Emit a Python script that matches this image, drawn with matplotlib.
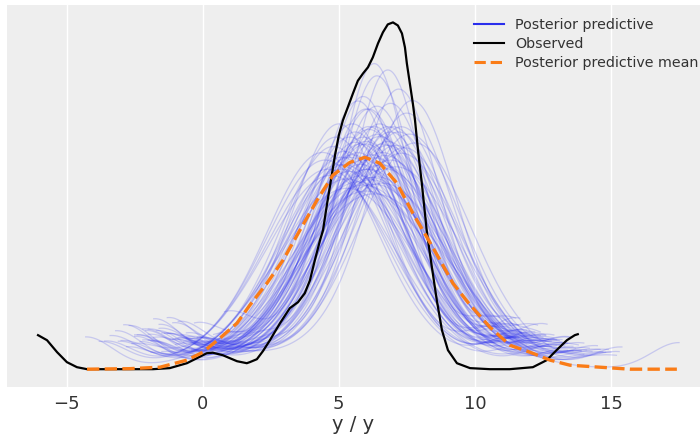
import numpy as np
import matplotlib
matplotlib.use("Agg")
import matplotlib.pyplot as plt

# observed density
obs_x = [-6.05, -5.72, -5.35, -4.99, -4.62, -4.25, -3.04, -1.83, -1.21, -0.58,
         -0.21, 0.15, 0.37, 0.74, 1.26, 1.62, 1.73, 1.99, 2.21, 2.47,
         2.84, 3.20, 3.50, 3.75, 3.94, 4.12, 4.31, 4.42, 4.56, 4.71,
         4.86, 5.00, 5.15, 5.33, 5.52, 5.70, 5.89, 6.07, 6.25, 6.44,
         6.62, 6.80, 6.99, 7.17, 7.32, 7.43, 7.50, 7.61, 7.72, 7.80,
         7.91, 8.05, 8.24, 8.42, 8.60, 8.79, 9.01, 9.34, 9.82, 10.55,
         11.28, 12.13, 12.64, 13.00, 13.38, 13.67, 13.78]
obs_y = [0.0256, 0.0218, 0.0128, 0.0053, 0.0015, 0.0, 0.0, 0.0, 0.0008, 0.0045,
         0.0083, 0.0120, 0.0124, 0.0105, 0.0060, 0.0045, 0.0053, 0.0075, 0.0135, 0.0218,
         0.0346, 0.0459, 0.0504, 0.0571, 0.0669, 0.0820, 0.0970, 0.1045, 0.1233, 0.1421,
         0.1609, 0.1759, 0.1872, 0.1970, 0.2075, 0.2170, 0.2225, 0.2271, 0.2346, 0.2451,
         0.2534, 0.2594, 0.2609, 0.2586, 0.2526, 0.2421, 0.2301, 0.2150, 0.2000, 0.1872,
         0.1647, 0.1398, 0.1023, 0.0767, 0.0519, 0.0293, 0.0143, 0.0045, 0.0008, 0.0,
         0.0, 0.0015, 0.0068, 0.0143, 0.0218, 0.0256, 0.0263]

# posterior predictive mean density
mean_x = [-4.25, -2.67, -1.57, -0.58, 0.01, 0.63, 1.26, 1.73, 2.36, 2.95, 3.57,
          4.20, 4.78, 5.41, 5.96, 6.51, 7.14, 7.72, 8.24, 8.72, 9.19, 9.74,
          10.55, 11.29, 12.02, 12.76, 13.49, 14.59, 15.70, 17.42]
mean_y = [0.0, 0.0004, 0.0015, 0.0068, 0.0128, 0.0233, 0.0346, 0.0481, 0.0647, 0.0820, 0.1045,
          0.1271, 0.1459, 0.1556, 0.1594, 0.1549, 0.1398, 0.1173, 0.0992, 0.0820, 0.0647, 0.0504,
          0.0316, 0.0180, 0.0128, 0.0068, 0.0030, 0.0015, 0.0, 0.0]

# posterior predictive draws: centre, core spread, smallest / largest sample,
# and the weight of the lone samples sitting at each end
pp_mu = [6.0, 5.4, 6.6, 5.9, 7.1, 4.8, 6.3, 6.8, 5.2, 6.1,
         7.4, 5.7, 6.4, 5.0, 6.9, 4.6, 7.2, 6.0, 5.5, 6.7,
         5.1, 6.3, 7.6, 5.8, 6.5, 4.4, 6.1, 5.3, 7.3, 6.4,
         5.6, 6.8, 4.9, 6.2, 7.0, 5.4, 6.3, 7.8, 5.7, 6.6,
         5.9, 6.5, 5.0, 6.1, 7.1, 5.5, 6.4, 6.0, 4.7, 6.9,
         5.8, 6.2, 7.5, 5.2, 6.7, 6.0, 5.3, 6.6, 6.1, 5.9,
         6.3, 6.5, 6.8, 7.2, 5.6, 4.5, 6.8, 5.7, 6.2, 7.7,
         5.1, 6.4, 5.8, 6.9, 6.0, 5.4, 7.3, 6.3, 5.9, 6.6]
pp_sd = [1.8, 1.7, 2.1, 1.35, 1.9, 1.8, 2.4, 1.6, 2.0, 1.5,
         1.9, 2.2, 1.7, 1.6, 2.0, 2.1, 1.4, 2.5, 1.6, 2.2,
         2.1, 1.2, 1.8, 1.9, 1.6, 1.9, 2.1, 2.3, 2.0, 1.5,
         1.7, 1.8, 1.7, 2.2, 1.7, 1.9, 2.0, 1.9, 1.4, 2.3,
         1.7, 1.8, 2.0, 1.6, 2.2, 1.9, 1.3, 1.8, 2.2, 1.7,
         2.1, 1.9, 1.6, 1.8, 2.0, 1.5, 2.4, 1.8, 1.7, 2.0,
         2.7, 2.1, 1.25, 1.7, 1.6, 2.0, 1.9, 1.7, 2.2, 1.5,
         1.9, 2.3, 1.8, 1.5, 2.0, 2.1, 1.7, 1.6, 2.5, 1.9]
pp_lo = [-1.0, -2.0, -1.5, 0.8, 0.0, -3.0, -2.5, 0.5, -2.2, 0.6,
         0.4, -2.7, -0.6, -1.0, -0.8, -3.8, 1.2, -1.6, -0.5, -1.9,
         -4.3, 1.5, 0.9, -1.3, -0.2, -2.6, -2.1, -3.1, -0.4, 0.3,
         -1.4, 0.2, -1.8, -1.6, 0.7, -2.0, -2.3, 1.0, 0.4, -1.7,
         -0.9, 0.0, -2.9, -0.3, -0.7, -1.5, 1.3, -0.6, -3.4, 0.1,
         -1.8, -1.1, 1.4, -2.4, -0.5, 0.8, -3.2, -0.2, -0.1, -1.3,
         -2.0, -0.8, 1.8, 0.6, -0.3, -3.6, -0.4, -0.9, -1.2, 1.1,
         -2.5, -1.9, -0.7, 0.9, -1.1, -2.2, 0.3, -0.6, -2.8, -0.3]
pp_hi = [12.4, 11.2, 13.5, 11.0, 14.0, 11.5, 15.0, 12.3, 11.8, 11.4,
         14.6, 13.2, 12.8, 10.8, 13.3, 11.6, 12.6, 14.8, 11.9, 15.4,
         12.1, 10.9, 13.8, 12.5, 11.7, 11.3, 13.9, 13.0, 14.2, 12.0,
         12.2, 13.1, 11.5, 14.3, 12.9, 12.3, 13.0, 15.2, 11.1, 14.5,
         12.0, 13.4, 12.5, 11.6, 15.3, 12.7, 11.3, 13.6, 12.8, 13.5,
         13.1, 12.6, 13.2, 11.7, 14.1, 11.9, 13.6, 12.7, 12.2, 13.4,
         14.0, 17.5, 11.5, 12.4, 11.6, 11.9, 13.7, 11.65, 12.65, 14.9,
         11.8, 14.7, 12.1, 13.0, 12.4, 11.9, 13.3, 12.6, 13.9, 12.9]
pp_wlo = [0.05, 0.07, 0.03, 0.08, 0.02, 0.05, 0.06, 0.04, 0.07, 0.03,
          0.04, 0.08, 0.05, 0.03, 0.06, 0.05, 0.02, 0.07, 0.04, 0.03,
          0.06, 0.03, 0.02, 0.09, 0.05, 0.04, 0.07, 0.05, 0.03, 0.02,
          0.06, 0.04, 0.05, 0.08, 0.02, 0.06, 0.05, 0.03, 0.04, 0.07,
          0.05, 0.02, 0.08, 0.04, 0.03, 0.06, 0.02, 0.05, 0.06, 0.03,
          0.09, 0.05, 0.02, 0.06, 0.04, 0.03, 0.07, 0.05, 0.02, 0.06,
          0.05, 0.03, 0.02, 0.04, 0.07, 0.05, 0.03, 0.08, 0.05, 0.02,
          0.06, 0.05, 0.04, 0.02, 0.08, 0.05, 0.03, 0.06, 0.04, 0.04]
pp_whi = [0.04, 0.03, 0.05, 0.03, 0.04, 0.05, 0.03, 0.06, 0.04, 0.05,
          0.03, 0.05, 0.04, 0.06, 0.03, 0.05, 0.04, 0.03, 0.05, 0.04,
          0.04, 0.06, 0.03, 0.05, 0.04, 0.05, 0.03, 0.04, 0.03, 0.05,
          0.06, 0.04, 0.05, 0.03, 0.04, 0.05, 0.03, 0.02, 0.06, 0.04,
          0.05, 0.04, 0.03, 0.06, 0.03, 0.04, 0.05, 0.03, 0.04, 0.05,
          0.04, 0.05, 0.03, 0.06, 0.03, 0.05, 0.04, 0.04, 0.05, 0.03,
          0.02, 0.05, 0.06, 0.04, 0.05, 0.04, 0.03, 0.08, 0.07, 0.03,
          0.05, 0.03, 0.05, 0.04, 0.05, 0.06, 0.03, 0.04, 0.03, 0.05]
bw = 1.0          # kde bandwidth of the lone end samples
broad_sd = 3.0    # spread of the broad shoulder of each draw
broad_w = 0.4

blue = "#2a2eec"
orange = "#fa7c17"
txt = "#333333"


def normal(x, m, s):
    return np.exp(-(x - m) ** 2 / (2 * s ** 2)) / (s * np.sqrt(2 * np.pi))


fig = plt.figure(figsize=(7, 4.34), dpi=100)
ax = fig.add_axes([0.01, 0.108, 0.99, 0.8805])
ax.set_facecolor("#eeeeee")

for i in range(len(pp_mu)):
    xs = np.linspace(pp_lo[i], pp_hi[i], 250)
    body = (1 - broad_w) * normal(xs, pp_mu[i], pp_sd[i]) + broad_w * normal(xs, pp_mu[i], broad_sd)
    ys = ((1 - pp_wlo[i] - pp_whi[i]) * body
          + pp_wlo[i] * normal(xs, pp_lo[i], bw)
          + pp_whi[i] * normal(xs, pp_hi[i], bw))
    ax.plot(xs, ys, color=blue, alpha=0.2, lw=0.9, zorder=2)

ax.plot(obs_x, obs_y, color="k", lw=1.6, zorder=3)
ax.plot(mean_x, mean_y, color=orange, lw=2.4, ls="--", zorder=4)

# legend handles
h1, = ax.plot([], [], color=blue, lw=1.5, label="Posterior predictive")
h2, = ax.plot([], [], color="k", lw=1.5, label="Observed")
h3, = ax.plot([], [], color=orange, lw=2.2, ls="--", label="Posterior predictive mean")
ax.legend(handles=[h1, h2, h3], loc="upper left", bbox_to_anchor=(0.655, 1.0),
          frameon=False, fontsize=10.3, labelspacing=0.35, handlelength=2.1,
          handletextpad=0.77, labelcolor=txt)

ax.set_xlim(-7.19, 18.27)
ax.set_ylim(-0.0135, 0.274)
ax.set_xticks([-5, 0, 5, 10, 15])
ax.set_yticks([])
ax.grid(axis="x", color="white", lw=1.0)
ax.set_axisbelow(True)
for s in ax.spines.values():
    s.set_visible(False)
ax.tick_params(axis="x", length=0, labelsize=13, labelcolor=txt, pad=6)
ax.set_xlabel("y / y", fontsize=14, color=txt, labelpad=1)

fig.savefig("out.png", dpi=100)
